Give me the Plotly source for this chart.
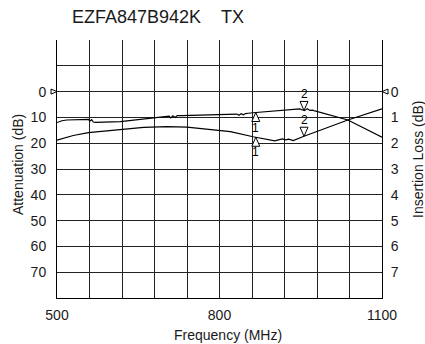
import numpy as np
import plotly.graph_objects as go

# ---------------- data ----------------
title_text = "EZFA847B942K\u00a0\u00a0\u00a0\u00a0TX"

# Upper curve (right axis, Insertion Loss in dB)
il_freq = [500, 509, 518, 554, 558, 561, 564, 567, 571, 617, 660, 703, 707, 710, 714, 718, 722,
           730, 825, 832, 836, 840, 844, 848, 853, 862, 948, 952, 957, 962, 967, 972, 976, 1037, 1100]
il_val = [1.20, 1.13, 1.10, 1.10, 1.08, 1.14, 1.09, 1.18, 1.19, 1.16, 1.07, 0.97, 0.95, 1.02, 0.94,
          1.00, 0.93, 0.93, 0.89, 0.87, 0.92, 0.86, 0.90, 0.85, 0.84, 0.82, 0.67, 0.69, 0.74, 0.66,
          0.73, 0.72, 0.75, 1.10, 1.77]

# Lower curve (left axis, Attenuation in dB)
att_freq = [500, 530, 558, 617, 660, 703, 740, 820, 862, 902, 910, 916, 922, 928, 936, 956, 1037, 1100]
att_val = [18.8, 17.0, 15.9, 14.6, 13.9, 13.6, 13.8, 15.5, 17.5, 19.1, 18.6, 18.3, 18.7, 18.4, 19.0,
           17.3, 11.0, 6.7]

marker_freqs = [867, 956]
marker_labels = ["1", "2"]

x_tick_vals = list(range(500, 1101, 60))
x_tick_text = ["500", "", "", "", "", "800", "", "", "", "", "1100"]
y_tick_vals = list(range(-20, 81, 10))
y_tick_text = ["", ""] + [str(v) for v in range(0, 71, 10)] + [""]
y2_tick_vals = list(range(-2, 9, 1))
y2_tick_text = ["", ""] + [str(v) for v in range(0, 8)] + [""]

# ---------------- figure ----------------
FONT = "Liberation Sans, Arial, Helvetica, sans-serif"
TXT = "#1a1a1a"

fig = go.Figure()
fig.add_trace(go.Scatter(x=att_freq, y=att_val, mode="lines", yaxis="y",
                         line=dict(color="black", width=1.2), showlegend=False, hoverinfo="skip"))
fig.add_trace(go.Scatter(x=il_freq, y=il_val, mode="lines", yaxis="y2",
                         line=dict(color="black", width=1.2), showlegend=False, hoverinfo="skip"))

shapes = []
annotations = []

TRI_UP = "M0,0 L-4,-9 L4,-9 Z"
TRI_DOWN = "M0,0 L-4,9 L4,9 Z"

for f, lab in zip(marker_freqs, marker_labels):
    a = float(np.interp(f, att_freq, att_val))
    i = float(np.interp(f, il_freq, il_val))
    if lab == "1":
        path, shift = TRI_UP, -15
    else:
        path, shift = TRI_DOWN, 16
    for yref, yv in (("y", a), ("y2", i)):
        shapes.append(dict(type="path", xref="x", yref=yref, xsizemode="pixel", ysizemode="pixel",
                           xanchor=f, yanchor=yv, path=path,
                           line=dict(color="black", width=1), fillcolor="white"))
        annotations.append(dict(x=f, y=yv, xref="x", yref=yref, text=lab, showarrow=False,
                                yshift=shift, font=dict(family=FONT, size=12, color="black")))

# axis 0 indicator triangles
shapes.append(dict(type="path", xref="paper", yref="y", xsizemode="pixel", ysizemode="pixel",
                   xanchor=0, yanchor=0, path="M0,0 L-6,2.5 L-6,-2.5 Z",
                   line=dict(color="black", width=1), fillcolor="white"))
shapes.append(dict(type="path", xref="paper", yref="y2", xsizemode="pixel", ysizemode="pixel",
                   xanchor=1, yanchor=0, path="M0,0 L6,2.5 L6,-2.5 Z",
                   line=dict(color="black", width=1), fillcolor="white"))

fig.update_layout(
    width=425, height=344,
    margin=dict(l=57, r=43, t=40, b=46, autoexpand=False),
    paper_bgcolor="white", plot_bgcolor="white",
    font=dict(family=FONT, size=14, color=TXT),
    showlegend=False,
    title=dict(text=title_text, x=72 / 425, xanchor="left", y=1 - 17 / 344, yanchor="middle",
               font=dict(family=FONT, size=18, color=TXT)),
    xaxis=dict(range=[500, 1100], tickvals=x_tick_vals, ticktext=x_tick_text, automargin=False,
               showgrid=True, gridcolor="#222", gridwidth=1, zeroline=False,
               showline=True, linecolor="black", linewidth=1, ticks="",
               ticklabelstandoff=4, tickfont=dict(size=14, color=TXT)),
    yaxis=dict(range=[80, -20], tickvals=y_tick_vals, ticktext=y_tick_text, automargin=False,
               showgrid=True, gridcolor="#222", gridwidth=1, zeroline=False,
               showline=True, linecolor="black", linewidth=1, ticks="",
               ticklabelstandoff=7, tickfont=dict(size=14, color=TXT)),
    yaxis2=dict(range=[8, -2], tickvals=y2_tick_vals, ticktext=y2_tick_text, overlaying="y",
                side="right", showgrid=False, zeroline=False, automargin=False,
                showline=True, linecolor="black", linewidth=1, ticks="",
                ticklabelstandoff=5, tickfont=dict(size=14, color=TXT)),
    shapes=shapes,
)

annotations += [
    dict(text="Frequency (MHz)", x=(228 - 57) / 325, y=-(335 - 298) / 258, xref="paper", yref="paper",
         showarrow=False, xanchor="center", yanchor="middle", font=dict(family=FONT, size=14, color=TXT)),
    dict(text="Attenuation (dB)", x=(18 - 57) / 325, y=1 - (165 - 40) / 258, xref="paper", yref="paper",
         showarrow=False, textangle=-90, xanchor="center", yanchor="middle",
         font=dict(family=FONT, size=14, color=TXT)),
    dict(text="Insertion Loss (dB)", x=(418 - 57) / 325, y=1 - (159 - 40) / 258, xref="paper", yref="paper",
         showarrow=False, textangle=-90, xanchor="center", yanchor="middle",
         font=dict(family=FONT, size=14, color=TXT)),
]
fig.update_layout(annotations=annotations)

fig.write_html("out.html", config={"displayModeBar": False},
               post_script="document.body.style.margin='0';document.body.style.padding='0';")
